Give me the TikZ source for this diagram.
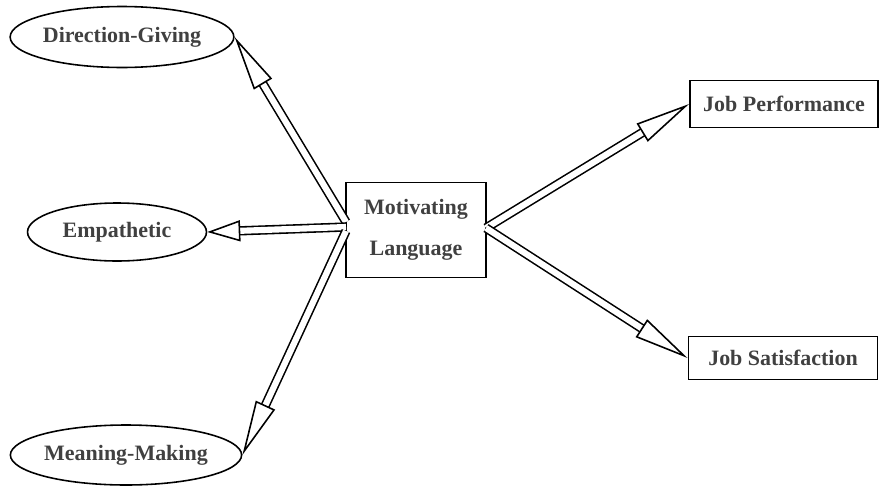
\documentclass[tikz,border=0pt]{standalone}
\usepackage{fontspec}
\setmainfont{Liberation Serif}
\usetikzlibrary{arrows.meta,shapes.geometric}
\begin{document}
\begin{tikzpicture}[x=0.02cm,y=-0.02cm,
    trait/.style={shape=ellipse,draw,line width=0.9pt,inner sep=0pt,font=\fontsize{12.5}{15}\selectfont\bfseries,text=black!75},
    factor/.style={shape=rectangle,draw,line width=1.1pt,inner sep=0pt,font=\fontsize{12.5}{15}\selectfont\bfseries,text=black!75},
    hollow/.style={double,double distance=3.5pt,line width=0.9pt,-{Triangle[open,length=#1,width=0.42cm,line width=0.9pt]}},
    hollow/.default=1.1cm]
    \useasboundingbox (0,0) rectangle (879,487);%
    \node[trait,minimum width=4.42cm,minimum height=1.22cm] (DG) at (122,37) {Direction-Giving};%
    \node[trait,minimum width=3.58cm,minimum height=1.16cm] (EM) at (117,232) {Empathetic};%
    \node[trait,minimum width=4.44cm,minimum height=1.2cm] (MM) at (126,455) {Meaning-Making};%
    \node[factor,minimum width=2.8cm,minimum height=1.9cm,align=center] (ML) at (416,230) {Motivating\\[8pt]Language};%
    \node[factor,minimum width=3.76cm,minimum height=0.94cm] (JP) at (784,104) {Job Performance};%
    \node[factor,minimum width=3.78cm,minimum height=0.86cm] (JS) at (783,358) {Job Satisfaction};%

    \coordinate (L1) at (346,222);%
    \coordinate (L2) at (346,227);%
    \coordinate (L3) at (346,231);%
    \coordinate (R1) at (486,228);%

    \draw[hollow] (L1) to (DG.east);%
    \draw[hollow=0.66cm] (L2) to (EM.east);%
    \draw[hollow] (L3) to (MM.east);%
    \draw[hollow] (R1) to (JP.west);%
    \draw[hollow] (R1) to (JS.west);%
  \end{tikzpicture}
\end{document}
